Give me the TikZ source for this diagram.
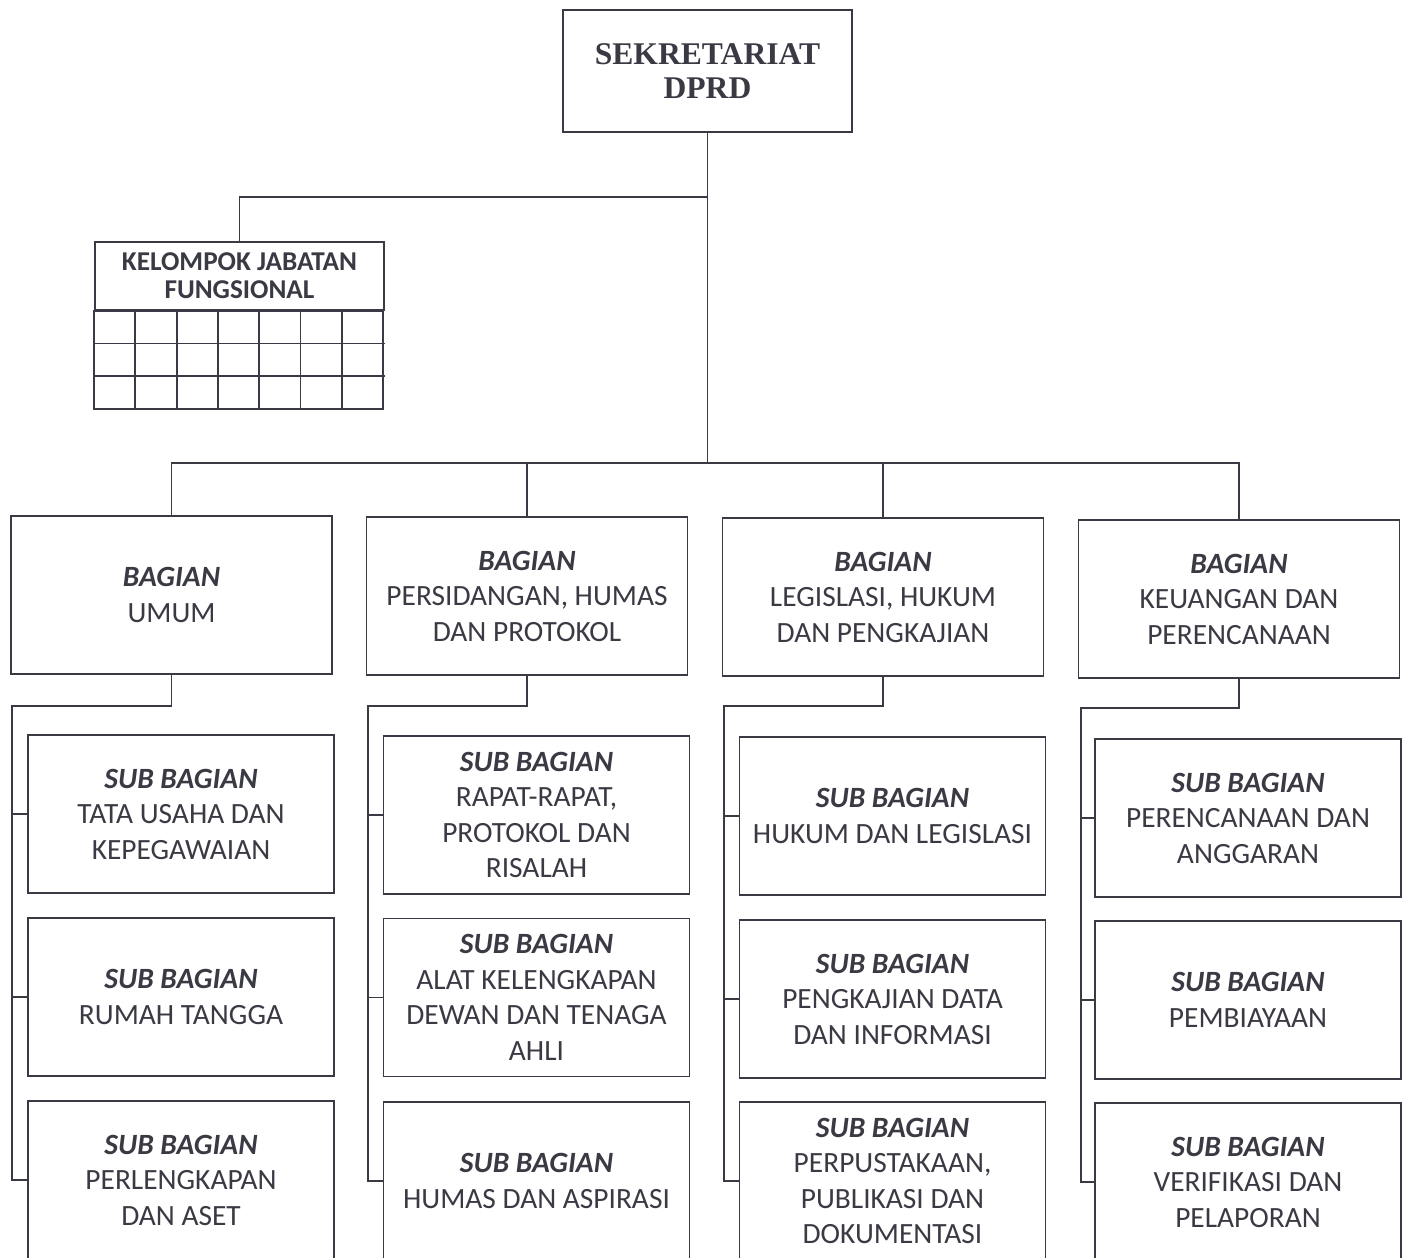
\documentclass[tikz,border=0pt]{standalone}
\usepackage{fontspec}
\setmainfont{Carlito}
\newfontfamily\titlefont{Liberation Serif}
\begin{document}
\begin{tikzpicture}[x=0.5pt,y=-0.5pt,
  every node/.style={text=ink},
  ln/.style={draw=ink, line width=0.9pt},
  boxbase/.style={draw=ink, line width=0.9pt, rectangle, align=center, inner sep=0pt},
  topbox/.style={boxbase, minimum width=144.5pt, minimum height=61pt, font=\titlefont\bfseries\fontsize{15.8}{17}\selectfont},
  kjfbox/.style={boxbase, minimum width=144.5pt, minimum height=34pt, font=\bfseries\fontsize{13.6}{14}\selectfont},
  bagbox/.style={boxbase, minimum width=160.5pt, minimum height=79pt, font=\fontsize{14.7}{17.75}\selectfont},
  subbox/.style={boxbase, minimum width=153pt, minimum height=79pt, font=\fontsize{14.7}{17.75}\selectfont},
]
\definecolor{ink}{HTML}{3A3A44}
\useasboundingbox[fill=white] (0,0) rectangle (1409,1258);

% top
\node[topbox] (top) at (707.5,71) {SEKRETARIAT\\DPRD};

% functional group
\node[kjfbox] (kjf) at (239.5,276) {KELOMPOK JABATAN\\FUNGSIONAL};
\foreach \i in {1,...,7} {
  \draw[ln] ([xshift={(\i-1)*41.286*0.5pt}]kjf.south west) rectangle ([xshift={\i*41.286*0.5pt}, yshift=-49pt]kjf.south west);
}
\foreach \j in {1,2} {
  \draw[ln] ([yshift={-\j*16.33pt}]kjf.south west) -- ([yshift={-\j*16.33pt}]kjf.south east);
}

% bagian
\node[bagbox] (b1) at (171.5,595) {\textbf{\textit{BAGIAN}}\\UMUM};
\node[bagbox] (b2) at (527,596) {\textbf{\textit{BAGIAN}}\\PERSIDANGAN, HUMAS\\DAN PROTOKOL};
\node[bagbox] (b3) at (883,597) {\textbf{\textit{BAGIAN}}\\LEGISLASI, HUKUM\\DAN PENGKAJIAN};
\node[bagbox] (b4) at (1239,599) {\textbf{\textit{BAGIAN}}\\KEUANGAN DAN\\PERENCANAAN};

% sub bagian col 1
\node[subbox] (s11) at (181,814) {\textbf{\textit{SUB BAGIAN}}\\TATA USAHA DAN\\KEPEGAWAIAN};
\node[subbox] (s12) at (181,997) {\textbf{\textit{SUB BAGIAN}}\\RUMAH TANGGA};
\node[subbox] (s13) at (181,1180) {\textbf{\textit{SUB BAGIAN}}\\PERLENGKAPAN\\DAN ASET};
% col 2
\node[subbox] (s21) at (536.5,815) {\textbf{\textit{SUB BAGIAN}}\\RAPAT-RAPAT,\\PROTOKOL DAN\\RISALAH};
\node[subbox] (s22) at (536.5,997.5) {\textbf{\textit{SUB BAGIAN}}\\ALAT KELENGKAPAN\\DEWAN DAN TENAGA\\AHLI};
\node[subbox] (s23) at (536.5,1181) {\textbf{\textit{SUB BAGIAN}}\\HUMAS DAN ASPIRASI};
% col 3
\node[subbox] (s31) at (892.5,816) {\textbf{\textit{SUB BAGIAN}}\\HUKUM DAN LEGISLASI};
\node[subbox] (s32) at (892.5,999) {\textbf{\textit{SUB BAGIAN}}\\PENGKAJIAN DATA\\DAN INFORMASI};
\node[subbox] (s33) at (892.5,1181) {\textbf{\textit{SUB BAGIAN}}\\PERPUSTAKAAN,\\PUBLIKASI DAN\\DOKUMENTASI};
% col 4
\node[subbox] (s41) at (1248,818) {\textbf{\textit{SUB BAGIAN}}\\PERENCANAAN DAN\\ANGGARAN};
\node[subbox] (s42) at (1248,1000) {\textbf{\textit{SUB BAGIAN}}\\PEMBIAYAAN};
\node[subbox] (s43) at (1248,1182) {\textbf{\textit{SUB BAGIAN}}\\VERIFIKASI DAN\\PELAPORAN};

% main connectors
\coordinate (bar) at (708,463);
\coordinate (kj) at (708,197);
\draw[ln] (top.south) -- (top.south |- bar);
\draw[ln] (kj) -| (kjf.north);
\draw[ln] (b1.north) -- (b1.north |- bar) -- (b4.north |- bar) -- (b4.north);
\draw[ln] (b2.north) -- (b2.north |- bar);
\draw[ln] (b3.north) -- (b3.north |- bar);

% sub connectors
\coordinate (v1) at (12,706);
\coordinate (v2) at (368,706);
\coordinate (v3) at (724,706);
\coordinate (v4) at (1081,708);
\foreach \c in {1,2,3,4} {
  \draw[ln] (b\c.south) |- (v\c) -- (v\c |- s\c3.west) -- (s\c3.west);
  \draw[ln] (v\c |- s\c1.west) -- (s\c1.west);
  \draw[ln] (v\c |- s\c2.west) -- (s\c2.west);
}
\end{tikzpicture}
\end{document}
